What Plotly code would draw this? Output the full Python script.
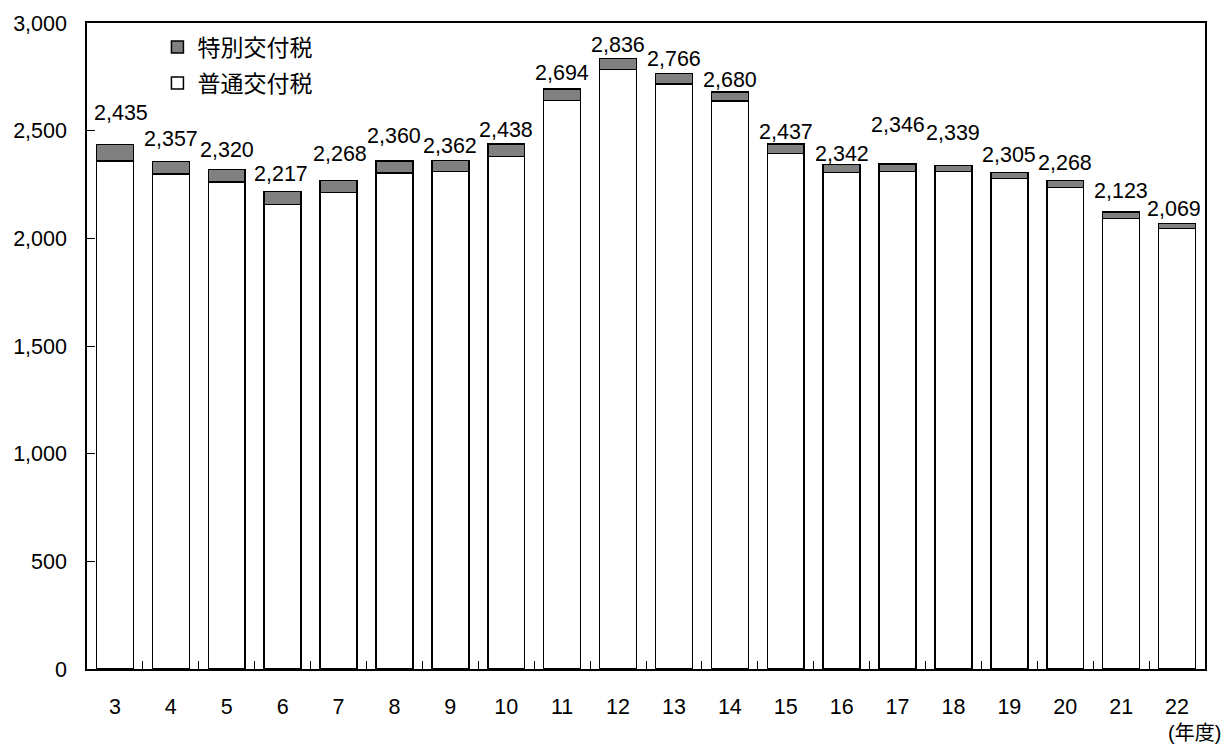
import plotly.graph_objects as go

years = ["3", "4", "5", "6", "7", "8", "9", "10", "11", "12", "13", "14", "15", "16", "17", "18", "19", "20", "21", "22"]
totals = [2435, 2357, 2320, 2217, 2268, 2360, 2362, 2438, 2694, 2836, 2766, 2680, 2437, 2342, 2346, 2339, 2305, 2268, 2123, 2069]
futsu = [2358, 2299, 2262, 2157, 2214, 2304, 2311, 2380, 2641, 2784, 2716, 2638, 2394, 2305, 2311, 2311, 2278, 2236, 2093, 2046]
tokubetsu = [t - f for t, f in zip(totals, futsu)]

# label placement (pixel offsets above bar top), as in the original layout
label_dy = [32, 22, 19, 18, 27, 25, 14, 14, 16, 13, 14, 12, 12, 11, 39, 32, 18, 18, 21, 14]
label_dx = [6, 0, 0, -2, 1, 0, 0, 0, 0, 0, 0, 0, 0, 0, 0, 0, 0, 0, 0, -3]

FONT = "Liberation Sans, Arial, Noto Sans CJK JP, sans-serif"
FS = 21.5

fig = go.Figure()
fig.add_trace(go.Bar(
    x=years, y=futsu, name="普通交付税",
    marker=dict(color="white", line=dict(color="black", width=1.5)),
    legendgroup="a", legendrank=2,
))
fig.add_trace(go.Bar(
    x=years, y=tokubetsu, name="特別交付税",
    marker=dict(color="#808080", line=dict(color="black", width=1.5)),
    legendgroup="b", legendrank=1,
))

for i, (tot, dy, dx) in enumerate(zip(totals, label_dy, label_dx)):
    fig.add_annotation(
        x=i, y=tot, text=f"{tot:,}", showarrow=False,
        yanchor="middle", xanchor="center", yshift=dy, xshift=dx,
        font=dict(size=FS, color="black", family=FONT),
    )

fig.add_annotation(
    xref="paper", yref="paper", x=1.016, y=-0.099, text="(年度)",
    showarrow=False, xanchor="right", yanchor="middle",
    font=dict(size=20, color="black", family=FONT),
)

fig.update_layout(
    width=1226, height=749,
    margin=dict(l=87, r=21, t=23, b=80),
    barmode="stack", bargap=0.34,
    plot_bgcolor="white", paper_bgcolor="white",
    font=dict(family=FONT, size=FS, color="black"),
    showlegend=True,
    legend=dict(
        x=0.063, y=0.996, xanchor="left", yanchor="top",
        traceorder="grouped", tracegroupgap=3, itemwidth=30,
        bgcolor="rgba(0,0,0,0)", font=dict(size=23, family=FONT),
    ),
    xaxis=dict(
        type="category", range=[-0.5, len(years) - 0.5], autorange=False,
        showline=True, linecolor="black", linewidth=1.5,
        mirror=True, ticks="inside", ticklen=8, tickcolor="black",
        tickson="boundaries", showgrid=False, ticklabelstandoff=17,
        automargin=False,
    ),
    yaxis=dict(
        range=[0, 3000], dtick=500, tickformat=",d",
        showline=True, linecolor="black", linewidth=1.5, mirror=True,
        ticks="inside", ticklen=8, tickcolor="black", showgrid=False,
        zeroline=False, ticklabelstandoff=14, automargin=False,
    ),
)

fig.write_html("out.html", config={"displayModeBar": False},
               post_script="document.body.style.margin='0';")
